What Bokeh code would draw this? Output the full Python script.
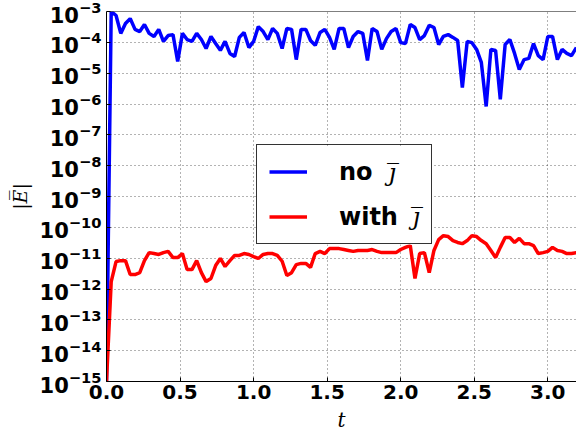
from bokeh.plotting import figure
from bokeh.models import (Legend, LegendItem, FixedTicker, Label, Span, Range1d,
                          NumeralTickFormatter, LogTickFormatter, BoxAnnotation)
from bokeh.embed import file_html
from bokeh.resources import INLINE

# time samples
t = [0.000, 0.032, 0.065, 0.097, 0.129, 0.161, 0.194, 0.226, 0.258, 0.290,
     0.323, 0.355, 0.387, 0.419, 0.452, 0.484, 0.516, 0.548, 0.581, 0.613,
     0.645, 0.677, 0.710, 0.742, 0.774, 0.806, 0.839, 0.871, 0.903, 0.935,
     0.968, 1.000, 1.032, 1.065, 1.097, 1.129, 1.161, 1.194, 1.226, 1.258,
     1.290, 1.323, 1.355, 1.387, 1.419, 1.452, 1.484, 1.516, 1.548, 1.581,
     1.613, 1.645, 1.677, 1.710, 1.742, 1.774, 1.806, 1.839, 1.871, 1.903,
     1.935, 1.968, 2.000, 2.032, 2.065, 2.097, 2.129, 2.161, 2.194, 2.226,
     2.258, 2.290, 2.323, 2.355, 2.387, 2.419, 2.452, 2.484, 2.516, 2.548,
     2.581, 2.613, 2.645, 2.677, 2.710, 2.742, 2.774, 2.806, 2.839, 2.871,
     2.903, 2.935, 2.968, 3.000, 3.032, 3.065, 3.097, 3.129, 3.161, 3.194]

# log10 |E| without j-bar
no_jbar_log10 = [
    -15.0, -3.00, -3.13, -3.71, -3.39, -3.23, -3.58, -3.65, -3.42, -3.71,
    -3.81, -3.58, -3.97, -3.78, -3.75, -4.62, -3.71, -3.91, -3.97, -3.71,
    -3.91, -4.20, -3.81, -4.04, -4.26, -3.97, -4.36, -4.46, -3.84, -3.68,
    -4.17, -3.97, -3.49, -3.65, -3.91, -3.55, -3.71, -4.20, -3.55, -3.58,
    -4.56, -3.58, -3.58, -3.94, -4.10, -3.68, -3.58, -3.84, -4.23, -3.55,
    -3.55, -4.17, -3.81, -3.65, -3.71, -4.59, -3.55, -3.65, -4.23, -3.88,
    -3.65, -3.55, -4.01, -4.04, -3.42, -3.52, -3.91, -3.78, -3.45, -3.52,
    -4.07, -3.81, -3.75, -3.84, -3.94, -5.47, -3.97, -4.01, -4.23, -4.65,
    -6.08, -4.23, -4.26, -5.85, -4.07, -3.91, -4.36, -4.88, -4.56, -4.52,
    -4.04, -4.43, -4.56, -3.81, -3.81, -4.56, -4.23, -4.36, -4.43, -4.17]

# log10 |E| with j-bar
with_jbar_log10 = [
    -15.0, -11.76, -11.11, -11.08, -11.08, -11.53, -11.53, -11.47, -11.08, -10.82,
    -10.85, -10.88, -10.82, -10.78, -10.98, -10.98, -10.85, -11.37, -11.37, -11.08,
    -11.47, -11.76, -11.66, -11.24, -11.01, -11.27, -11.08, -10.91, -10.91, -10.85,
    -10.88, -10.95, -11.01, -10.88, -10.85, -10.85, -10.91, -11.10, -11.56, -11.47,
    -11.21, -11.17, -11.17, -11.30, -10.85, -10.78, -10.85, -10.69, -10.69, -10.69,
    -10.72, -10.75, -10.78, -10.75, -10.75, -10.75, -10.72, -10.78, -10.82, -10.82,
    -10.82, -10.82, -10.72, -10.65, -10.59, -11.66, -10.85, -10.82, -11.47, -10.75,
    -10.40, -10.27, -10.30, -10.43, -10.49, -10.53, -10.43, -10.27, -10.30, -10.43,
    -10.53, -10.75, -10.98, -10.65, -10.33, -10.33, -10.49, -10.36, -10.53, -10.53,
    -10.59, -10.85, -10.82, -10.78, -10.65, -10.75, -10.78, -10.85, -10.85, -10.82]

x_ticks = [0.0, 0.5, 1.0, 1.5, 2.0, 2.5, 3.0]
y_tick_exponents = [-15, -14, -13, -12, -11, -10, -9, -8, -7, -6, -5, -4, -3]
series_labels = ["no", "with"]
math_symbol = "j\u0305"

no_jbar = [10.0 ** v for v in no_jbar_log10]
with_jbar = [10.0 ** v for v in with_jbar_log10]
y_ticks = [10.0 ** e for e in y_tick_exponents]

p = figure(width=576, height=436, y_axis_type="log",
           x_range=Range1d(0, 3.195), y_range=Range1d(1e-15, 1e-3),
           output_backend="svg", toolbar_location=None,
           min_border_left=106, min_border_right=0, min_border_top=11,
           min_border_bottom=55)
p.outline_line_color = None
p.background_fill_color = "white"
p.border_fill_color = "white"

r1 = p.line(t, no_jbar, line_color="#0000ff", line_width=3.5)
r2 = p.line(t, with_jbar, line_color="#ff0000", line_width=3.5)

p.add_layout(Span(location=1e-3, dimension="width", line_color="black", line_width=1))

p.xaxis.ticker = FixedTicker(ticks=x_ticks)
p.xaxis.formatter = NumeralTickFormatter(format="0.0")
p.yaxis.ticker = FixedTicker(ticks=y_ticks)
p.yaxis.formatter = LogTickFormatter()

for ax in (p.xaxis, p.yaxis):
    ax.axis_line_color = "black"
    ax.axis_line_width = 1
    ax.major_tick_in = 4
    ax.major_tick_out = 0
    ax.minor_tick_line_color = None
    ax.major_label_text_font = "DejaVu Sans"
    ax.major_label_text_font_style = "bold"
    ax.major_label_text_color = "black"
    ax.axis_label_text_font = "DejaVu Serif"
    ax.axis_label_text_font_style = "italic"
    ax.axis_label_text_color = "black"

p.xaxis.major_label_text_font_size = "20px"
p.yaxis.major_label_text_font_size = "21px"
p.xaxis.major_label_standoff = 3
p.yaxis.major_label_standoff = 5
p.xaxis.axis_label = "t"
p.xaxis.axis_label_text_font_size = "20px"
p.xaxis.axis_label_standoff = 6
p.yaxis.axis_label = "|E\u0305|"
p.yaxis.axis_label_text_font_size = "19px"
p.yaxis.axis_label_standoff = 6

for g in (p.xgrid, p.ygrid):
    g.grid_line_color = "black"
    g.grid_line_alpha = 0.6
    g.grid_line_dash = "1 3"
    g.grid_line_width = 1
p.ygrid.ticker = FixedTicker(ticks=y_ticks)
p.xgrid.ticker = FixedTicker(ticks=x_ticks)

# white backing box for the legend (legend itself is transparent so the
# math symbols drawn on top stay visible)
p.add_layout(BoxAnnotation(left=150, right=326, bottom=137, top=234,
                           left_units="screen", right_units="screen",
                           bottom_units="screen", top_units="screen",
                           fill_color="white", fill_alpha=1.0, line_color=None,
                           level="annotation"))

legend = Legend(items=[LegendItem(label=series_labels[0], renderers=[r1]),
                       LegendItem(label=series_labels[1], renderers=[r2])],
                location=(150, 137))
legend.border_line_color = "black"
legend.border_line_width = 1.5
legend.border_line_alpha = 0.8
legend.background_fill_alpha = 0.0
legend.label_text_font = "DejaVu Sans"
legend.label_text_font_style = "bold"
legend.label_text_font_size = "24px"
legend.label_text_color = "black"
legend.glyph_width = 38
legend.glyph_height = 29
legend.label_height = 29
legend.label_width = 80
legend.spacing = 16
legend.padding = 12
legend.margin = 0
legend.label_standoff = 32
p.add_layout(legend)

for lx, ly in ((282, 209), (306, 165)):
    p.add_layout(Label(x=lx, y=ly, x_units="screen", y_units="screen", text=math_symbol,
                       text_font="DejaVu Serif", text_font_style="italic",
                       text_font_size="24px", text_color="black",
                       text_baseline="alphabetic", level="overlay"))

open("out.html", "w").write(file_html(p, INLINE))
